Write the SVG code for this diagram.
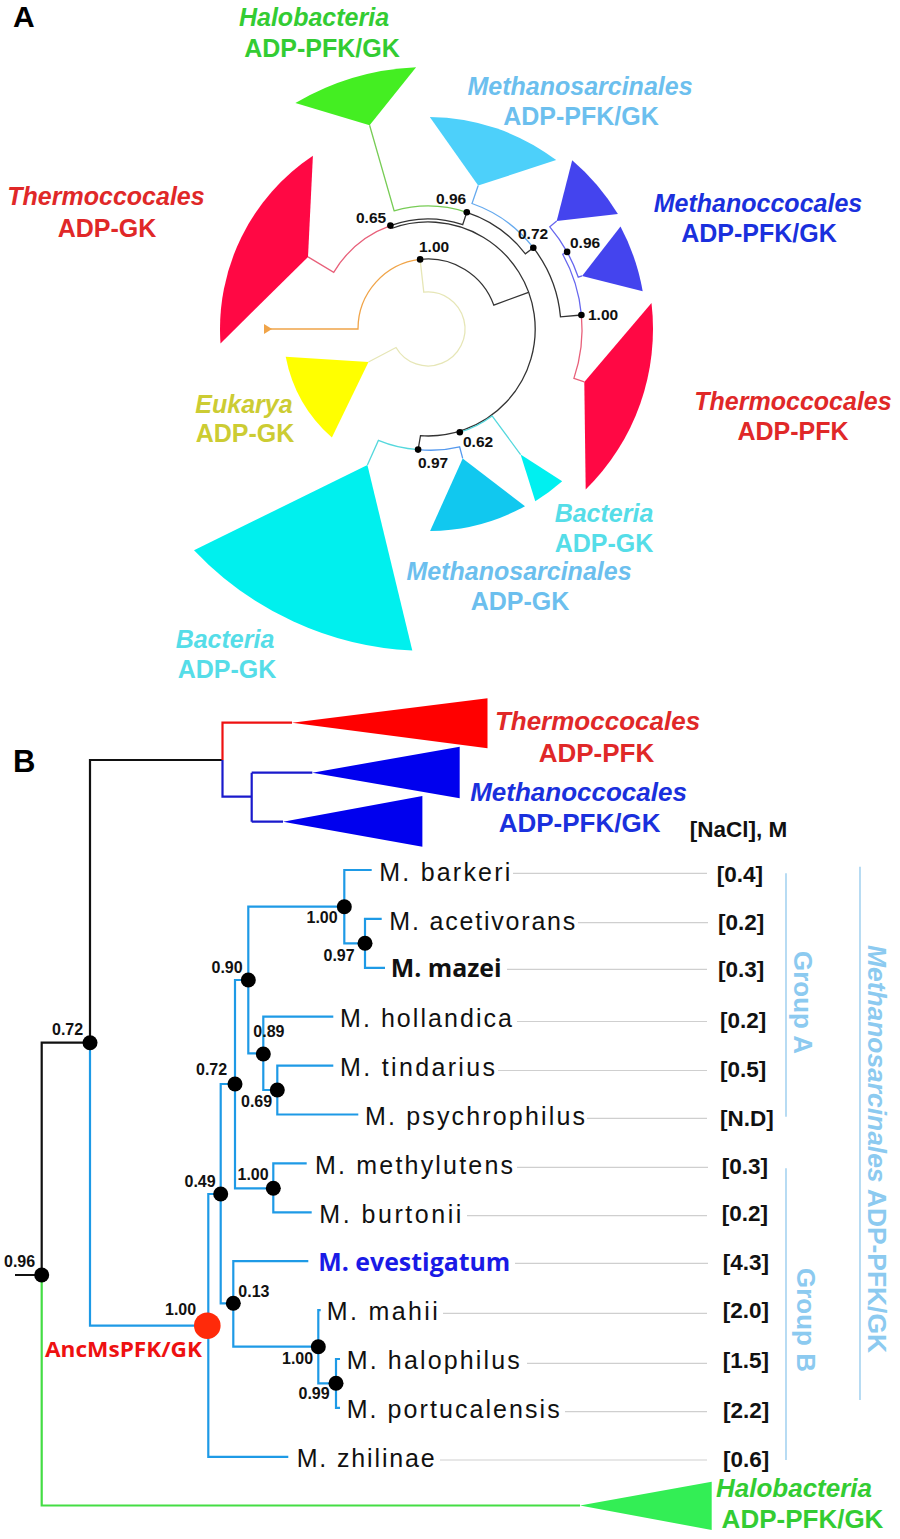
<svg xmlns="http://www.w3.org/2000/svg" width="900" height="1539" viewBox="0 0 900 1539">
<style>
text{font-family:"Liberation Sans",Arial,sans-serif}
.lbl{font-weight:bold;font-size:25px;text-anchor:middle}
.lb2{font-weight:bold;font-size:26px;text-anchor:middle}
.it{font-style:italic}
.sup{font-weight:bold;font-size:15.5px;fill:#111}
.supb{font-weight:bold;font-size:16px;fill:#111}
.sp{font-size:25px;fill:#111}
.val{font-weight:bold;font-size:22.5px;fill:#111}
.cal{font-family:"Open Sans","Liberation Sans",sans-serif;font-weight:bold}
.grp{font-weight:bold;font-size:26px;fill:#8ccaf0}
.pa{fill:none;stroke-width:1.3}
.pb{fill:none;stroke-width:2.2}
.lead{stroke:#cfcfcf;stroke-width:1.2}
.dot{fill:#000}
</style>

<text x="13" y="27" style="font-weight:bold;font-size:30px">A</text>
<text x="13" y="772" style="font-weight:bold;font-size:31px">B</text>

<!-- ===== Panel A connectors ===== -->
<g id="connectorsA">
<path class="pa" stroke="#f0a448" d="M267,329 L358,329 A70,70 0 0 1 420.1,259.4"/>
<polygon points="264,324 272,329 264,334" fill="#f0a448"/>
<path class="pa" stroke="#e6e6b6" stroke-width="1.6" d="M420.1,259.4 L423.8,292.2 A37,37 0 1 1 396,347.5 L368.5,362"/>
<path class="pa" stroke="#333" d="M420.1,259.4 A70,70 0 0 1 493.8,305.1 L528.5,292.4"/>
<path class="pa" stroke="#333" d="M391.4,228.5 A107,107 0 1 1 420.5,435.7 L418.1,449.6"/>
<path class="pa" stroke="#e8607a" d="M391.4,228.5 L390.4,225.6 A110,110 0 0 0 333.7,272.3 L308,256.9"/>
<path class="pa" stroke="#333" d="M390.4,225.6 A110,110 0 0 1 462.7,224.6 L466.8,212.3"/>
<path class="pa" stroke="#77cc55" d="M466.8,212.3 A123,123 0 0 0 394.1,210.8 L369.6,125.2"/>
<path class="pa" stroke="#333" d="M466.8,212.3 A123,123 0 0 1 525.4,253.8 L533.3,247.7"/>
<path class="pa" stroke="#66aaee" d="M533.3,247.7 A133,133 0 0 0 472,203.5 L478.2,185.5"/>
<path class="pa" stroke="#333" d="M533.3,247.7 A133,133 0 0 1 560.5,316.9 L581.4,315"/>
<path class="pa" stroke="#6666ee" d="M581.4,315 A154,154 0 0 0 562.7,254.3 L567.1,251.9"/>
<path class="pa" stroke="#6666ee" d="M567.1,251.9 A159,159 0 0 0 549.8,226.8 L556.7,221"/>
<path class="pa" stroke="#6666ee" d="M567.1,251.9 A159,159 0 0 1 578.3,277.2 L582.1,275.9"/>
<path class="pa" stroke="#e8607a" d="M581.4,315 A154,154 0 0 1 573.9,378.4 L584.3,381.9"/>
<path class="pa" stroke="#55d8dd" d="M459.8,432.2 A108,108 0 0 0 492.1,415.9 L520.6,454.6"/>
<path class="pa" stroke="#5599ee" d="M418.1,449.6 A122,122 0 0 0 459.6,446.8 L462.7,458.4"/>
<path class="pa" stroke="#55d8dd" d="M418.1,449.6 A122,122 0 0 1 378.4,440.4 L367.4,465.1"/>
</g>

<!-- ===== Panel A clades ===== -->
<g id="cladeA-halobacteria">
<path d="M369.6,125.2 L295.4,103 A262,262 0 0 1 416.1,67.3 Z" fill="#44ee22"/>
<text class="lbl it" x="314" y="26" fill="#33cc33">Halobacteria</text>
<text class="lbl" x="322" y="57" fill="#33cc33">ADP-PFK/GK</text>
</g>
<g id="cladeA-thermo-gk">
<path d="M308,256.9 L312.9,155.8 A208,208 0 0 0 220.5,343.5 Z" fill="#ff0844"/>
<text class="lbl it" x="106" y="205" fill="#e02828">Thermoccocales</text>
<text class="lbl" x="107" y="237" fill="#e02828">ADP-GK</text>
</g>
<g id="cladeA-msarc-pfk">
<path d="M478.2,185.5 L429.8,117 A212,212 0 0 1 556.2,160.1 Z" fill="#4dd0fa"/>
<text class="lbl it" x="580" y="95" fill="#6cbfee">Methanosarcinales</text>
<text class="lbl" x="581" y="125" fill="#6cbfee">ADP-PFK/GK</text>
</g>
<g id="cladeA-mcocc">
<path d="M556.7,221 L572.2,160.2 A222,222 0 0 1 617.9,214 Z" fill="#4444ee"/>
<path d="M582.1,275.9 L620.5,226.6 A218,218 0 0 1 642.7,291.2 Z" fill="#4444ee"/>
<text class="lbl it" x="758" y="212" fill="#1a30dd">Methanoccocales</text>
<text class="lbl" x="759" y="242" fill="#1a30dd">ADP-PFK/GK</text>
</g>
<g id="cladeA-thermo-pfk">
<path d="M584.3,381.9 L651.5,303.1 A225,225 0 0 1 585.7,489.5 Z" fill="#ff0844"/>
<text class="lbl it" x="793" y="410" fill="#e02828">Thermoccocales</text>
<text class="lbl" x="793" y="440" fill="#e02828">ADP-PFK</text>
</g>
<g id="cladeA-bacteria-small">
<path d="M520.6,454.6 L562.2,481.3 A203,203 0 0 1 535.3,501.3 Z" fill="#00f0f0"/>
<text class="lbl it" x="604" y="522" fill="#55dde8">Bacteria</text>
<text class="lbl" x="604" y="552" fill="#55dde8">ADP-GK</text>
</g>
<g id="cladeA-msarc-gk">
<path d="M462.7,458.4 L525,506.2 A202,202 0 0 1 430.1,531 Z" fill="#11c8ef"/>
<text class="lbl it" x="519" y="580" fill="#6cbfee">Methanosarcinales</text>
<text class="lbl" x="520" y="610" fill="#6cbfee">ADP-GK</text>
</g>
<g id="cladeA-bacteria-big">
<path d="M367.4,465.1 L412.3,650.6 A322,322 0 0 1 194,550.2 Z" fill="#00f0ee"/>
<text class="lbl it" x="225" y="648" fill="#55dde8">Bacteria</text>
<text class="lbl" x="227" y="678" fill="#55dde8">ADP-GK</text>
</g>
<g id="cladeA-eukarya">
<path d="M368.5,362 L285.7,356.7 A145,145 0 0 0 331.9,437.6 Z" fill="#ffff00"/>
<text class="lbl it" x="244" y="413" fill="#cccc33">Eukarya</text>
<text class="lbl" x="245" y="442" fill="#cccc33">ADP-GK</text>
</g>

<!-- Panel A support nodes -->
<g id="nodesA">
<circle class="dot" cx="390.4" cy="225.6" r="3.3"/><text class="sup" x="356" y="223">0.65</text>
<circle class="dot" cx="466.8" cy="212.3" r="3.3"/><text class="sup" x="436" y="204">0.96</text>
<circle class="dot" cx="420.1" cy="259.4" r="3.3"/><text class="sup" x="419" y="252">1.00</text>
<circle class="dot" cx="533.3" cy="247.7" r="3.3"/><text class="sup" x="518" y="239">0.72</text>
<circle class="dot" cx="567.1" cy="251.9" r="3.3"/><text class="sup" x="570" y="248">0.96</text>
<circle class="dot" cx="581.4" cy="315" r="3.3"/><text class="sup" x="588" y="320">1.00</text>
<circle class="dot" cx="459.8" cy="432.2" r="3.3"/><text class="sup" x="463" y="447">0.62</text>
<circle class="dot" cx="418.1" cy="449.6" r="3.3"/><text class="sup" x="418" y="468">0.97</text>
</g>

<!-- ===== Panel B connectors ===== -->
<g id="connectorsB">
<path class="pb" stroke="#111" d="M15,1275 L41.7,1275 M41.7,1275 L41.7,1042.7 L90,1042.7 M90,1042.7 L90,760 L222.5,760"/>
<path class="pb" stroke="#ee1111" d="M222.5,760 L222.5,722.7 L292,722.7"/>
<path class="pb" stroke="#1a1acc" d="M222.5,760 L222.5,796.7 L251.7,796.7 M251.7,772.7 L251.7,821.7 M251.7,772.7 L312.3,772.7 M251.7,821.7 L283,821.7"/>
<path class="pb" stroke="#44dd44" d="M41.7,1275 L41.7,1505.5 L580,1505.5"/>
<g class="pb" stroke="#1e9ae6">
<path d="M90,1042.7 L90,1325.7 L207.3,1325.7"/>
<path d="M220.7,1194 L208.3,1194 L208.3,1456.8 L288.3,1456.8"/>
<path d="M235,1084 L220.7,1084 L220.7,1303.3 L233.3,1303.3"/>
<path d="M248.3,980 L235,980 L235,1188.3 L273.3,1188.3"/>
<path d="M344.3,906.7 L248.3,906.7 L248.3,1053.3 L263.3,1053.3"/>
<path d="M371.7,870 L344.3,870 L344.3,943.3 L365,943.3"/>
<path d="M381.7,918.9 L365,918.9 L365,967.8 L385,967.8"/>
<path d="M333.3,1016.7 L263.3,1016.7 L263.3,1090 L277.3,1090"/>
<path d="M333.3,1065.6 L277.3,1065.6 L277.3,1114.5 L358.3,1114.5"/>
<path d="M306.7,1163.4 L273.3,1163.4 L273.3,1212.3 L311.7,1212.3"/>
<path d="M308.3,1261.2 L233.3,1261.2 L233.3,1346.7 L318.3,1346.7"/>
<path d="M320.7,1310.1 L318.3,1310.1 L318.3,1383.3 L336,1383.3"/>
<path d="M340,1359 L336,1359 L336,1407.9 L340,1407.9"/>
</g>
<g class="lead">
<line x1="513" y1="873.3" x2="707" y2="873.3"/>
<line x1="578" y1="922.7" x2="708" y2="922.7"/>
<line x1="507" y1="969.3" x2="707" y2="969.3"/>
<line x1="517" y1="1021.5" x2="707" y2="1021.5"/>
<line x1="498" y1="1070.5" x2="707" y2="1070.5"/>
<line x1="587" y1="1118.3" x2="707" y2="1118.3"/>
<line x1="517" y1="1167.3" x2="708" y2="1167.3"/>
<line x1="467" y1="1215.7" x2="707" y2="1215.7"/>
<line x1="515" y1="1263.3" x2="708" y2="1263.3"/>
<line x1="443" y1="1313.3" x2="707" y2="1313.3"/>
<line x1="527" y1="1363.3" x2="707" y2="1363.3"/>
<line x1="565" y1="1411.7" x2="707" y2="1411.7"/>
<line x1="440" y1="1460" x2="707" y2="1460"/>
</g>
<g stroke="#a6d3f0" stroke-width="1.6">
<line x1="786" y1="873.3" x2="786" y2="1116.7"/>
<line x1="786" y1="1168.3" x2="786" y2="1460"/>
<line x1="860" y1="866.7" x2="860" y2="1400"/>
</g>
</g>

<!-- ===== Panel B clades ===== -->
<g id="cladeB-thermo">
<path d="M292,722.7 L487.5,698.3 L487.5,748.3 Z" fill="#ff0000"/>
<text class="lb2 it" x="597.5" y="730" fill="#e02828">Thermoccocales</text>
<text class="lb2" x="596.5" y="762" fill="#e02828">ADP-PFK</text>
</g>
<g id="cladeB-mcocc">
<path d="M312.3,772.7 L459.7,746.7 L459.7,798.3 Z" fill="#0000ee"/>
<path d="M283,821.7 L422.4,796 L422.4,846.7 Z" fill="#0000ee"/>
<text class="lb2 it" x="578.5" y="801" fill="#1a30dd">Methanoccocales</text>
<text class="lb2" x="579.6" y="832" fill="#1a30dd">ADP-PFK/GK</text>
</g>
<g id="cladeB-halo">
<path d="M580,1505.5 L711.7,1481.7 L711.7,1530 Z" fill="#33ee55"/>
<text class="lb2 it" x="794" y="1497" fill="#33cc33">Halobacteria</text>
<text class="lb2" x="802.5" y="1528" fill="#33cc33">ADP-PFK/GK</text>
</g>
<text class="val" x="689.7" y="836.7">[NaCl], M</text>

<!-- species -->
<g id="taxa">
<g id="t-barkeri"><text class="sp" x="379.3" y="880.7" textLength="131" lengthAdjust="spacing">M. barkeri</text><text class="val" x="716.7" y="881.7">[0.4]</text></g>
<g id="t-acetivorans"><text class="sp" x="389.3" y="929.5" textLength="186" lengthAdjust="spacing">M. acetivorans</text><text class="val" x="718" y="930">[0.2]</text></g>
<g id="t-mazei"><text class="cal" x="390.7" y="977" style="font-size:25px;fill:#111" textLength="111" lengthAdjust="spacingAndGlyphs">M. mazei</text><text class="val" x="718" y="976.7">[0.3]</text></g>
<g id="t-hollandica"><text class="sp" x="340" y="1027" textLength="172" lengthAdjust="spacing">M. hollandica</text><text class="val" x="720" y="1028.3">[0.2]</text></g>
<g id="t-tindarius"><text class="sp" x="340" y="1076" textLength="155" lengthAdjust="spacing">M. tindarius</text><text class="val" x="720" y="1077.3">[0.5]</text></g>
<g id="t-psychrophilus"><text class="sp" x="365" y="1125" textLength="220" lengthAdjust="spacing">M. psychrophilus</text><text class="val" x="720" y="1126">[N.D]</text></g>
<g id="t-methylutens"><text class="sp" x="315" y="1174" textLength="198" lengthAdjust="spacing">M. methylutens</text><text class="val" x="721.7" y="1174.3">[0.3]</text></g>
<g id="t-burtonii"><text class="sp" x="319.3" y="1222.5" textLength="142" lengthAdjust="spacing">M. burtonii</text><text class="val" x="721.7" y="1221">[0.2]</text></g>
<g id="t-evestigatum"><text class="cal" x="318.3" y="1270.5" style="font-size:25px;fill:#1a1ae6" textLength="192" lengthAdjust="spacingAndGlyphs">M. evestigatum</text><text class="val" x="722.7" y="1270">[4.3]</text></g>
<g id="t-mahii"><text class="sp" x="326.7" y="1320" textLength="111" lengthAdjust="spacing">M. mahii</text><text class="val" x="722.7" y="1318.3">[2.0]</text></g>
<g id="t-halophilus"><text class="sp" x="346.7" y="1369" textLength="173" lengthAdjust="spacing">M. halophilus</text><text class="val" x="722.7" y="1368.3">[1.5]</text></g>
<g id="t-portucalensis"><text class="sp" x="346.7" y="1417.5" textLength="213" lengthAdjust="spacing">M. portucalensis</text><text class="val" x="723" y="1418.3">[2.2]</text></g>
<g id="t-zhilinae"><text class="sp" x="296.7" y="1466.7" textLength="138" lengthAdjust="spacing">M. zhilinae</text><text class="val" x="723" y="1466.7">[0.6]</text></g>
</g>

<g id="groups">
<text class="grp" transform="translate(794,951) rotate(90)">Group A</text>
<text class="grp" transform="translate(797,1268) rotate(90)">Group B</text>
<text class="grp" transform="translate(868,945) rotate(90)" textLength="408" lengthAdjust="spacingAndGlyphs"><tspan style="font-style:italic">Methanosarcinales</tspan> ADP-PFK/GK</text>
</g>

<!-- Panel B nodes -->
<g id="nodesB">
<circle class="dot" cx="41.7" cy="1275" r="7.5"/><text class="supb" x="4" y="1267.3">0.96</text>
<circle class="dot" cx="90" cy="1042.7" r="7.5"/><text class="supb" x="52" y="1035">0.72</text>
<circle class="dot" cx="344.3" cy="906.7" r="7.5"/><text class="supb" x="306.5" y="923.3">1.00</text>
<circle class="dot" cx="365" cy="943.3" r="7.5"/><text class="supb" x="323.5" y="960.7">0.97</text>
<circle class="dot" cx="248.3" cy="980" r="7.5"/><text class="supb" x="211.5" y="973.3">0.90</text>
<circle class="dot" cx="263.3" cy="1054" r="7.5"/><text class="supb" x="253.3" y="1036.7">0.89</text>
<circle class="dot" cx="235" cy="1084" r="7.5"/><text class="supb" x="196" y="1075">0.72</text>
<circle class="dot" cx="277.3" cy="1090" r="7.5"/><text class="supb" x="241" y="1107.3">0.69</text>
<circle class="dot" cx="273.3" cy="1188.3" r="7.5"/><text class="supb" x="237.5" y="1180">1.00</text>
<circle class="dot" cx="220.7" cy="1194" r="7.5"/><text class="supb" x="184.5" y="1187.3">0.49</text>
<circle class="dot" cx="233.3" cy="1303.3" r="7.5"/><text class="supb" x="238.3" y="1297.3">0.13</text>
<circle class="dot" cx="318.3" cy="1346.7" r="7.5"/><text class="supb" x="282" y="1364">1.00</text>
<circle class="dot" cx="336" cy="1383.3" r="7.5"/><text class="supb" x="298.5" y="1399.3">0.99</text>
</g>
<g id="node-anc">
<circle cx="207.3" cy="1325.7" r="13.3" fill="#ff2a0a"/>
<text class="supb" x="165" y="1315">1.00</text>
<text class="cal" x="45" y="1356.7" style="font-size:21px;fill:#ee1111" textLength="157" lengthAdjust="spacingAndGlyphs">AncMsPFK/GK</text>
</g>
</svg>
